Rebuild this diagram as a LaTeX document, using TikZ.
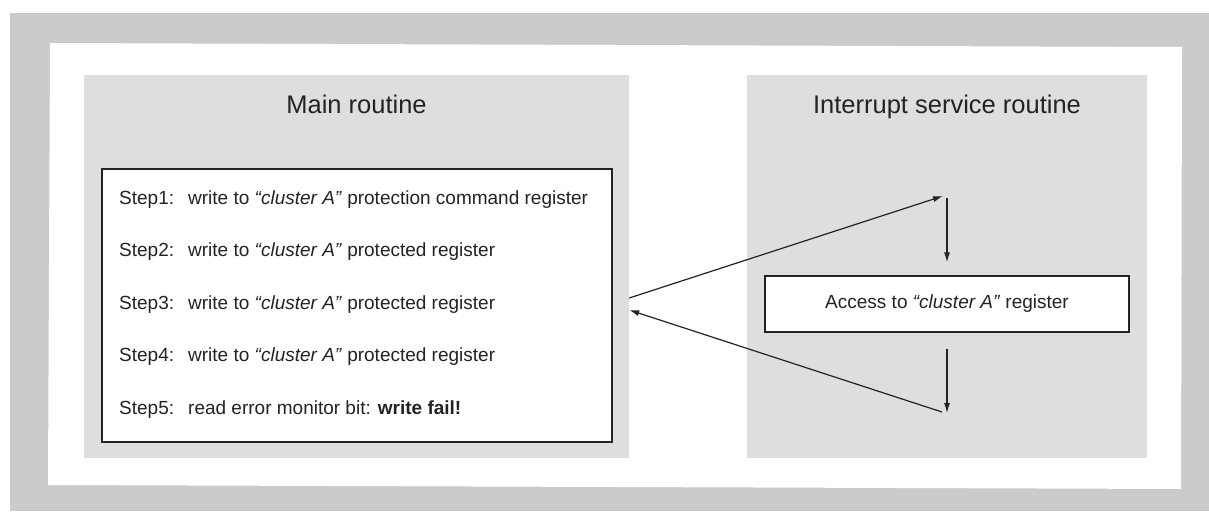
\documentclass[tikz,border=0pt]{standalone}
\usepackage{fontspec}
\setmainfont{Liberation Sans}
\usetikzlibrary{positioning,calc,arrows.meta}
\definecolor{framegray}{RGB}{203,203,203}
\definecolor{panelgray}{RGB}{221,222,221}
\definecolor{inkgray}{RGB}{35,35,35}

\tikzset{
	panel/.style={fill=panelgray, inner sep=0pt},
	stepbox/.style={draw=inkgray, fill=white, line width=1.2pt, inner sep=0pt},
	steptext/.style={anchor=base west, font=\fontsize{19}{22}\selectfont, text=inkgray, inner sep=0pt},
	title/.style={anchor=base, font=\fontsize{25.5}{30}\selectfont, text=inkgray, inner sep=0pt},
	flow/.style={draw=inkgray, line width=1.2pt, -{Latex[length=10pt,width=6pt]}}
}
\newcommand{\steplabel}[1]{\makebox[69pt][l]{#1}}
\newcommand{\clA}{\textit{“cluster A”}}

\begin{document}
\begin{tikzpicture}[x=1pt,y=-1pt]
		
		\useasboundingbox (0,0) rectangle (1209,511);
		\fill[white] (0,0) rectangle (1209,511);
		\fill[framegray] (10,13) rectangle (1209,511);
		\fill[white] (50,43) -- (1182,47) -- (1181,489) -- (48,485) -- cycle;
		
		\node[panel, minimum width=545pt, minimum height=383pt] (mainbg) at (356.5,266.5) {};
		\node[panel, minimum width=400pt, minimum height=383pt] (isrbg) at (947,266.5) {};
		
		\node[title] (maintitle) at (356.5,113.5) {Main routine};
		\node[title] (isrtitle) at (947,113.5) {Interrupt service routine};
		
		\node[stepbox, minimum width=510pt, minimum height=273pt] (steps) at (357,305.5) {};
		\foreach \txt [count=\i] in {{write to \clA\ protection command register},
			{write to \clA\ protected register},
			{write to \clA\ protected register},
			{write to \clA\ protected register},
			{read error monitor bit: \textbf{write fail!}}}
		{
			\node[steptext] (step\i) at (119,{204+52.5*(\i-1)}) {\steplabel{Step\i:}\txt};
		}
		
		\node[stepbox, minimum width=364pt, minimum height=56pt, font=\fontsize{19}{22}\selectfont, text=inkgray] (access) at (947,304) {Access to \clA\ register};
		
		\coordinate (isrstart) at (943,196);
		\coordinate (isrend) at (947,413);
		
		\draw[flow] ([yshift=-31.5pt]mainbg.east) -- (isrstart);
		\draw[flow] ([xshift=4pt,yshift=-2pt]isrstart) -- ([yshift=13pt]access.north);
		\draw[flow] ([yshift=-16pt]access.south) -- (isrend);
		\draw[flow] ([xshift=-5pt,yshift=1pt]isrend) -- ([yshift=-43.5pt]mainbg.east);
		
\end{tikzpicture}
\end{document}
